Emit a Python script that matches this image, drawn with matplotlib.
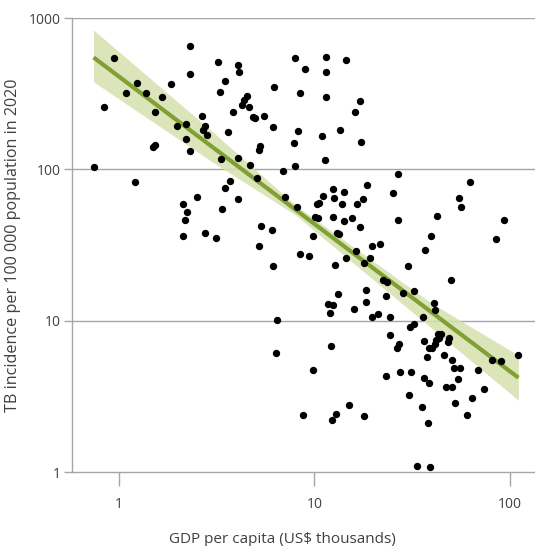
import numpy as np
import matplotlib
matplotlib.use("Agg")
import matplotlib.pyplot as plt
from matplotlib.ticker import FixedLocator, NullLocator

plt.rcParams['font.family'] = ['Open Sans', 'DejaVu Sans']

# GDP per capita (US$ thousands) and TB incidence per 100 000 (2020)
gdp = [0.74, 0.84, 0.94, 1.08, 1.20, 1.24, 1.38, 1.52, 1.52, 1.49,
       1.66, 1.85, 1.99, 2.12, 2.24, 2.17, 2.12, 2.20, 2.19, 2.30,
       2.30, 2.32, 2.50, 2.66, 2.75, 2.70, 2.81, 2.77, 3.15, 3.20,
       3.29, 3.32, 3.36, 3.48, 3.48, 3.60, 3.68, 3.83, 4.06, 4.07,
       4.13, 4.07, 4.51, 4.37, 4.27, 4.65, 4.66, 4.83, 4.98, 5.50,
       5.08, 5.28, 5.20, 5.34, 6.10, 5.20, 6.20, 6.17, 6.17, 6.41,
       6.33, 6.95, 7.95, 7.09, 8.16, 7.88, 8.26, 8.00, 8.97, 8.46,
       8.46, 9.35, 8.80, 9.84, 9.86, 10.1, 10.4, 10.55, 10.3, 11.0,
       11.1, 11.3, 11.5, 11.5, 11.5, 11.8, 12.5, 12.0, 12.2, 12.3,
       12.9, 12.4, 12.6, 12.4, 12.7, 13.1, 13.4, 13.3, 13.6, 13.8,
       14.2, 14.2, 14.5, 14.5, 15.1, 15.6, 15.9, 16.1, 16.4, 16.5,
       17.2, 17.4, 17.2, 17.7, 18.0, 18.0, 18.4, 18.4, 18.7, 19.3,
       19.8, 21.8, 19.7, 21.2, 22.5, 23.6, 23.4, 23.4, 24.5, 24.5,
       25.4, 26.7, 26.7, 26.6, 27.2, 27.4, 28.6, 30.1, 30.6, 30.9,
       32.3, 32.3, 31.3, 33.6, 35.5, 35.9, 36.4, 36.4, 36.7, 37.8,
       38.4, 38.7, 39.1, 38.7, 40.0, 39.5, 41.0, 41.7, 42.4, 42.9,
       44.6, 43.6, 49.0, 48.6, 41.9, 41.6, 46.1, 47.5, 51.0, 49.9,
       51.0, 51.9, 56.0, 52.6, 54.3, 55.1, 56.4, 60.6, 62.5, 64.1,
       68.8, 73.8, 81.7, 90.6, 85.7, 93.8, 110.0]
tb = [104, 260, 540, 320, 83, 373, 318, 239, 144, 140,
      299, 366, 193, 59, 52, 46, 36, 198, 158, 653,
      426, 133, 66, 225, 193, 182, 169, 38, 35, 509,
      323, 117, 55, 381, 75, 176, 84, 238, 64, 487,
      439, 119, 307, 287, 266, 259, 107, 221, 220, 225,
      88, 142, 135, 42, 40, 31, 351, 189, 23, 10.1,
      6.1, 98, 106, 66, 56, 150, 178, 542, 462, 321,
      27.5, 26.8, 2.38, 36.5, 4.75, 48.5, 47.8, 59.5, 58.7, 166,
      67, 116, 556, 439, 302, 12.8, 12.7, 11.2, 6.77, 2.19,
      2.41, 74, 65, 48.3, 23.2, 37.7, 37.3, 15.1, 182, 58.7,
      70.4, 45.4, 530, 26.1, 2.79, 47.4, 11.9, 238, 29.0, 58.9,
      282, 151, 41.3, 63.7, 23.9, 2.36, 15.9, 13.3, 79.2, 26.1,
      31.3, 32.0, 10.5, 11.0, 18.7, 17.9, 14.6, 4.34, 10.6, 8.0,
      69.3, 92.9, 46.6, 6.64, 7.05, 4.56, 15.3, 23.0, 3.25, 9.11,
      9.57, 15.8, 4.58, 1.09, 2.70, 10.5, 7.31, 4.18, 29.2, 5.75,
      2.11, 3.87, 1.08, 6.57, 6.64, 36.5, 13.1, 11.7, 49.3, 8.22,
      8.13, 7.73, 7.73, 7.27, 7.42, 7.05, 5.90, 3.63, 3.63, 18.7,
      5.53, 4.90, 4.90, 2.86, 4.14, 64.8, 56.4, 2.39, 82.7, 3.08,
      4.70, 3.52, 5.53, 5.41, 34.5, 46.6, 5.90]

# Fitted trend and its 95% confidence band (GDP, TB incidence)
fit_gdp = [0.74, 111]
fit_tb = [549, 4.2]
band_gdp = [0.74, 3.0, 8.0, 40.0, 111]
band_lo = [379, 112, 50, 8.9, 2.98]
band_hi = [833, 178, 58, 13.0, 5.9]

x_ticks = [1, 10, 100]
y_ticks = [1, 10, 100, 1000]

GRID = '#a6a6a6'
TEXT = '#404040'
LINE = '#80a034'
BAND = '#d6e0ae'

fig = plt.figure(figsize=(5.35, 5.46), dpi=100)
ax = fig.add_axes([72/535, (546-472)/546, (535-72)/535, (472-18)/546])
ax.set_xscale('log')
ax.set_yscale('log')
ax.set_xlim(0.574, 135)
ax.set_ylim(1, 1000)

# confidence band (smooth in log space between read points)
xs = np.geomspace(band_gdp[0], band_gdp[-1], 200)
lo = 10 ** np.interp(np.log10(xs), np.log10(band_gdp), np.log10(band_lo))
hi = 10 ** np.interp(np.log10(xs), np.log10(band_gdp), np.log10(band_hi))
ax.fill_between(xs, lo, hi, color=BAND, alpha=0.85, linewidth=0, zorder=1)
ax.plot(fit_gdp, fit_tb, color=LINE, linewidth=3, solid_capstyle='butt', zorder=2)

ax.scatter(gdp, tb, s=28, color='black', linewidths=0, zorder=3)

for yv in [10, 100, 1000]:
    ax.axhline(yv, color=GRID, linewidth=1, zorder=0)

for s in ['top', 'right']:
    ax.spines[s].set_visible(False)
for s in ['left', 'bottom']:
    ax.spines[s].set_color(GRID)
    ax.spines[s].set_linewidth(1)

ax.xaxis.set_major_locator(FixedLocator(x_ticks))
ax.xaxis.set_minor_locator(NullLocator())
ax.yaxis.set_major_locator(FixedLocator(y_ticks))
ax.yaxis.set_minor_locator(NullLocator())
ax.set_xticklabels([str(v) for v in x_ticks])
ax.set_yticklabels([str(v) for v in y_ticks])
ax.tick_params(axis='x', length=10, width=1, color=GRID, labelsize=10, labelcolor=TEXT, pad=8)
ax.tick_params(axis='y', length=6, width=1, color=GRID, labelsize=10, labelcolor=TEXT, pad=2)

ax.set_xlabel('GDP per capita (US$ thousands)', fontsize=11, color=TEXT)
ax.xaxis.set_label_coords(0.4536, -0.133)
ax.set_ylabel('TB incidence per 100 000 population in 2020', fontsize=11.6, color=TEXT, labelpad=6)

fig.savefig('out.png', dpi=100)
